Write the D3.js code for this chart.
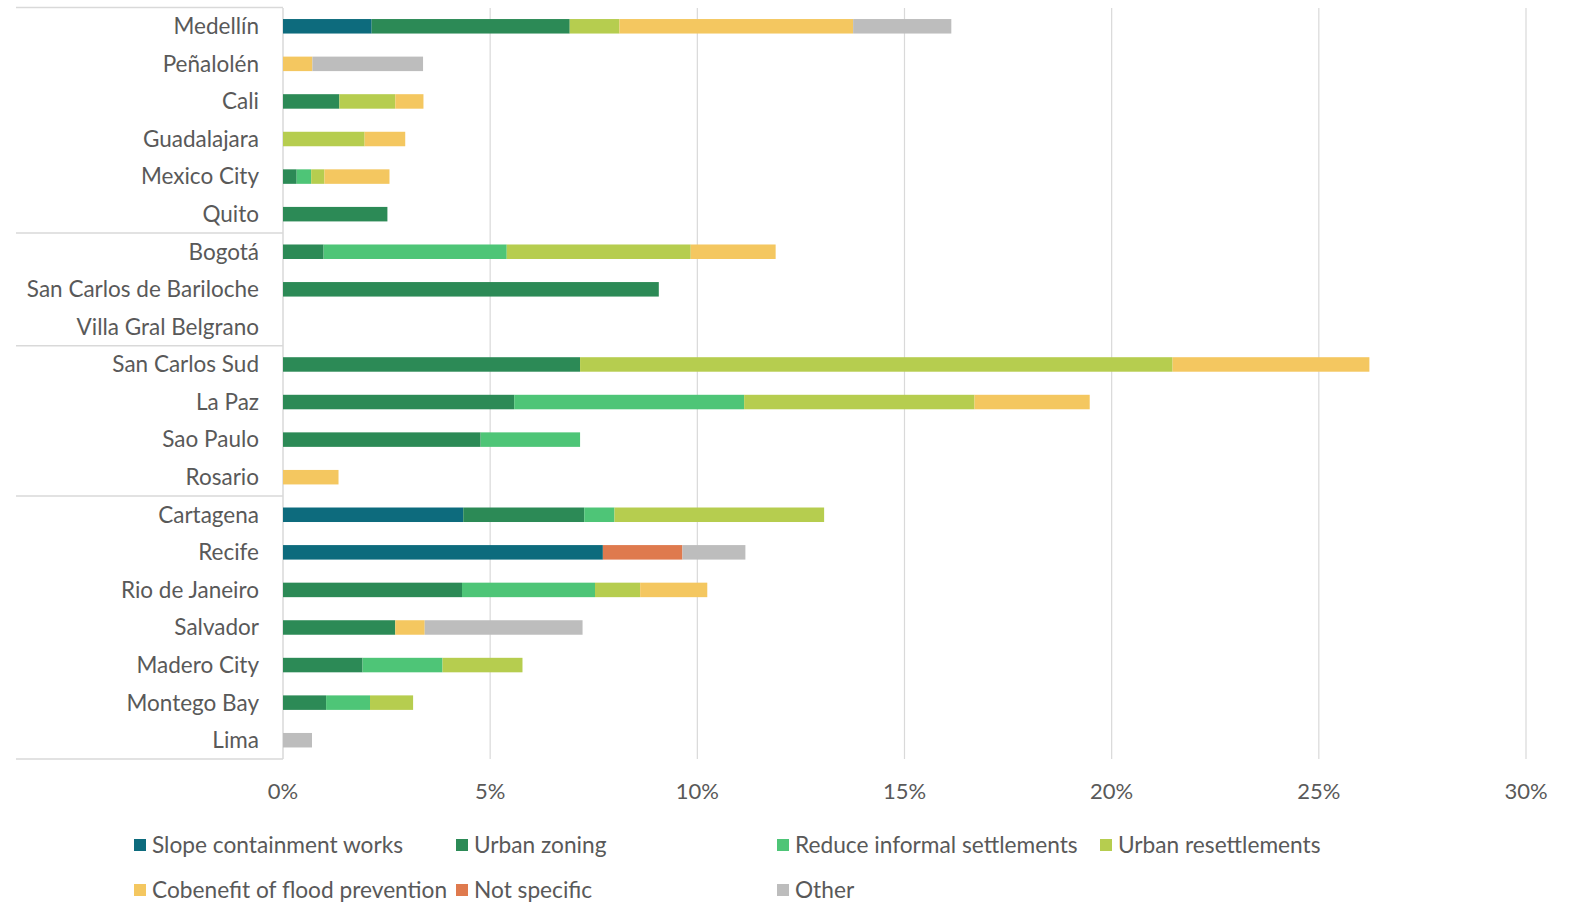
<!DOCTYPE html>
<html>
<head>
<meta charset="utf-8">
<script src="https://cdn.jsdelivr.net/npm/d3@7"></script>
<style>
  body { margin: 0; background: #fff; }
  svg { display: block; }
  text { font-family: Lato, "Open Sans", sans-serif; fill: #595959; }
</style>
</head>
<body>
<svg id="chart" width="1571" height="903"></svg>
<script>
const cities = ["Medellín","Peñalolén","Cali","Guadalajara","Mexico City","Quito",
  "Bogotá","San Carlos de Bariloche","Villa Gral Belgrano",
  "San Carlos Sud","La Paz","Sao Paulo","Rosario",
  "Cartagena","Recife","Rio de Janeiro","Salvador","Madero City","Montego Bay","Lima"];

const seriesNames = ["Slope containment works","Urban zoning","Reduce informal settlements",
  "Urban resettlements","Cobenefit of flood prevention","Not specific","Other"];

// values in % per city, in the order of cities
const slope   = [2.14,0,0,0,0,0, 0,0,0, 0,0,0,0, 4.35,7.72,0,0,0,0,0];
const zoning  = [4.78,0,1.36,0,0.33,2.52, 0.98,9.07,0, 7.17,5.58,4.77,0, 2.92,0,4.32,2.71,1.92,1.04,0];
const reduce  = [0,0,0,0,0.35,0, 4.42,0,0, 0,5.55,2.40,0, 0.73,0,3.21,0,1.93,1.06,0];
const resettle= [1.20,0,1.35,1.97,0.32,0, 4.44,0,0, 14.30,5.56,0,0, 5.06,0,1.09,0,1.93,1.04,0];
const flood   = [5.64,0.71,0.68,0.98,1.57,0, 2.05,0,0, 4.75,2.78,0,1.34, 0,0,1.62,0.71,0,0,0];
const notSpec = [0,0,0,0,0,0, 0,0,0, 0,0,0,0, 0,1.92,0,0,0,0,0];
const other   = [2.37,2.67,0,0,0,0, 0,0,0, 0,0,0,0, 0,1.52,0,3.81,0,0,0.70];

const ticks = [0,5,10,15,20,25,30];
const groupBreaks = [5, 8, 12]; // index of last city in each group (except last)

const colors = ["#0d6b7d","#2c8a56","#4ec577","#b6cd4f","#f4c760","#df7a4e","#bdbdbd"];

const allSeries = [slope, zoning, reduce, resettle, flood, notSpec, other];
const table = cities.map((c,i) => {
  const o = {city: c};
  seriesNames.forEach((s,k) => o[s] = allSeries[k][i]);
  return o;
});
const stacked = d3.stack().keys(seriesNames)(table);

const svg = d3.select("#chart");
const x = d3.scaleLinear().domain([0,30]).range([283, 1526]);
const y = d3.scaleBand().domain(cities).range([7.5, 759]).padding(0);
const barH = 14.5;
const grid = "#d9d9d9";

// gridlines
svg.append("g").selectAll("line").data(ticks.slice(1)).join("line")
  .attr("x1", d => x(d)).attr("x2", d => x(d))
  .attr("y1", 8).attr("y2", 759)
  .attr("stroke", grid).attr("stroke-width", 1.2);

// category axis lines
svg.append("line").attr("x1", x(0)).attr("x2", x(0)).attr("y1", 8).attr("y2", 759)
  .attr("stroke", grid).attr("stroke-width", 1.5);
const sepYs = [y.range()[0]].concat(groupBreaks.map(i => y(cities[i]) + y.step()), [y.range()[1]]);
svg.append("g").selectAll("line").data(sepYs).join("line")
  .attr("x1", 16).attr("x2", x(0))
  .attr("y1", d => d).attr("y2", d => d)
  .attr("stroke", grid).attr("stroke-width", 1.5);

// bars
svg.append("g").selectAll("g").data(stacked).join("g")
  .attr("fill", (d,i) => colors[i])
  .selectAll("rect").data(d => d.filter(p => p[1] - p[0] > 0)).join("rect")
  .attr("x", d => x(d[0]))
  .attr("width", d => x(d[1]) - x(d[0]))
  .attr("y", d => y(d.data.city) + (y.step() - barH) / 2)
  .attr("height", barH);

// category labels
svg.append("g").selectAll("text").data(cities).join("text")
  .attr("x", 259).attr("y", d => y(d) + y.step()/2)
  .attr("dy", "0.35em").attr("text-anchor", "end")
  .attr("font-size", 22.5).text(d => d);

// x tick labels
svg.append("g").selectAll("text").data(ticks).join("text")
  .attr("x", d => x(d)).attr("y", 791).attr("dy", "0.35em")
  .attr("text-anchor", "middle").attr("font-size", 22)
  .text(d => d + "%");

// legend
const legPos = [[134,845],[456,845],[777,845],[1100,845],[134,890],[456,890],[777,890]];
const leg = svg.append("g").selectAll("g").data(seriesNames).join("g")
  .attr("transform", (d,i) => `translate(${legPos[i][0]},${legPos[i][1]})`);
leg.append("rect").attr("x", 0).attr("y", -6).attr("width", 12).attr("height", 12)
  .attr("fill", (d,i) => colors[i]);
leg.append("text").attr("x", 18).attr("y", 0).attr("dy", "0.35em")
  .attr("font-size", 22.7).text(d => d);
</script>
</body>
</html>
